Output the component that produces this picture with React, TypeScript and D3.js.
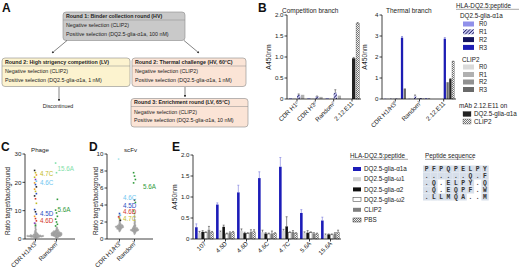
import React from 'react';
import * as d3 from 'd3';

const FONT = "'Liberation Sans', Arial, Helvetica, sans-serif";
const MONO = "'Liberation Mono', 'DejaVu Sans Mono', monospace";

// ---------------- Panel A data ----------------
const flowTitles = [
  'Round 1: Binder collection round (HV)',
  'Round 2: High strigency competition (LV)',
  'Round 2: Thermal challenge (HV, 60°C)',
  'Round 3: Enrichment round (LV, 65°C)',
];
const flowNeg = ['Negative selection (CLIP2)', 'Negative selection (CLIP2)', 'Negative selection (CLIP2)', 'Negative selection (CLIP2)'];
const flowPos = [
  'Positive selection (DQ2.5-glia-α1a, 100 nM)',
  'Positive selection (DQ2.5-glia-α1a, 1 nM)',
  'Positive selection (DQ2.5-glia-α1a, 1 nM)',
  'Positive selection (DQ2.5-glia-α1a, 10 nM)',
];
const flowEnd = 'Discontinued';

// ---------------- Panel B data ----------------
const compCats = ['CDR H1', 'CDR H3', 'Random', '2.12.E11'];
const compSups = ['c', 'c', 'c', ''];
const compDqR0 = [0.02, 0.02, 0.02, null];
const compClipR0 = [0.015, 0.015, 0.015, null];
const compDqR1 = [0.1, 0.06, 0.15, null];
const compDqR1Err = [0.02, 0.01, 0.07, null];
const compClipR1 = [0.1, 0.05, 0.08, null];
const compMabDQ = [null, null, null, 0.97];
const compMabCLIP = [null, null, null, 1.8];
const compTicks = [0, 0.5, 1.0, 1.5, 2.0];

const thermCats = ['CDR H1/H3', 'Random', '2.12.E11'];
const thermSups = ['f', 'f', ''];
const thermDqR0 = [0.02, 0.02, null];
const thermClipR0 = [0.02, 0.02, null];
const thermDqR1 = [0.02, 0.15, null];
const thermDqR1Err = [0, 0.04, null];
const thermClipR1 = [0.02, 0.04, null];
const thermDqR2 = [0.02, 0.04, null];
const thermClipR2 = [0.02, 0.03, null];
const thermDqR3 = [2.92, 0.03, 2.87];
const thermDqR3Err = [0.05, 0, 0.05];
const thermClipR3 = [0.5, 0.03, 0.8];
const thermMabDQ = [null, null, 0.95];
const thermMabCLIP = [null, null, 1.78];
const thermTicks = [0, 1, 2, 3, 4];

const bLegendTitle = 'HLA-DQ2.5:peptide';
const bLegendDq = 'DQ2.5-glia-α1a';
const bLegendClip = 'CLIP2';
const roundNames = ['R0', 'R1', 'R2', 'R3'];
const bLegendMab = 'mAb 2.12.E11 on';

// ---------------- Panel C / D data ----------------
const swarmCats = ['CDR H1/H3', 'Random'];
const swarmSups = ['f', 'f'];

const phageCdrGray = [0.4, 0.5, 0.6, 0.6, 0.7, 0.7, 0.8, 0.8, 0.8, 0.9, 0.9, 0.9, 1.0, 1.0, 1.0, 1.0, 1.1, 1.1, 1.1, 1.1, 1.2, 1.2, 1.2, 1.3, 1.3, 1.4, 1.4, 1.5, 1.5, 1.6, 1.7, 1.8, 1.9, 2.0, 2.1, 2.3, 2.5, 2.7, 3.0, 3.3, 3.6, 4.0, 4.4, 4.9, 5.4, 1.0, 0.9, 1.2, 1.1, 0.8];
const phageRandGray = [0.5, 0.6, 0.7, 0.8, 0.9, 1.0, 1.0, 1.1, 1.1, 1.2, 1.2, 1.3, 1.3, 1.4, 1.4, 1.5, 1.5, 1.5, 1.6, 1.6, 1.7, 1.7, 1.8, 1.8, 1.9, 1.9, 2.0, 2.0, 2.0, 2.1, 2.1, 2.2, 2.2, 2.3, 2.3, 2.4, 2.5, 2.5, 2.6, 2.7, 2.8, 2.9, 3.0, 3.1, 3.3, 3.5, 3.8, 4.1, 1.2, 1.4, 1.6, 1.8, 2.0, 2.2, 1.0, 1.3, 1.7, 1.9, 2.4, 2.6];
const phageCdrHi = [24.2, 23.4, 22.6, 21.8, 21.0, 20.4, 19.8, 19.2, 18.4, 17.6, 16.8, 16.0, 15.2, 14.2, 12.6, 10.4, 9.6, 8.8, 8.0, 7.2, 6.4, 5.6, 4.8];
const phageCdrHiTags = ['k', 'y', 'o', 'y', 'p', 'c', 'o', 'b', 'k', 'o', 'y', 'b', 'k', 'r', 'y', 'b', 'k', 'b', 'o', 'r', 'r', 'p', 'g'];
const phageRandHi = [26.8, 23.4, 14.0, 10.2, 9.2, 8.0, 7.0, 6.0, 5.2, 4.6];
const phageRandHiTags = ['lg', 'lg', 'g', 'g', 'g', 'g', 'g', 'g', 'g', 'g'];
const phageLabels = ['4.7C', '4.6C', '4.5D', '4.6D', '15.6A', '5.6A'];
const phageLabelVals = [23, 19.8, 8.8, 6.4, 24.7, 10.2];
const phageLabelCats = [0, 0, 0, 0, 1, 1];
const phageLabelTags = ['y', 'c', 'b', 'r', 'lg', 'g'];
const phageTicks = [0, 10, 20, 30];

const scfvCdrGray = [0.9, 1.0, 1.05, 1.1, 1.15, 1.2, 1.2, 1.25, 1.3, 1.3, 1.35, 1.35, 1.4, 1.4, 1.4, 1.45, 1.45, 1.5, 1.5, 1.5, 1.55, 1.6, 1.6, 1.65, 1.7, 1.75, 1.8, 1.9, 2.0, 2.1, 2.2, 2.4, 2.6, 2.8, 1.3, 1.4, 1.5, 1.2, 1.6];
const scfvRandGray = [0.6, 0.7, 0.75, 0.8, 0.85, 0.9, 0.9, 0.95, 1.0, 1.0, 1.0, 1.05, 1.05, 1.1, 1.1, 1.1, 1.15, 1.15, 1.2, 1.2, 1.25, 1.3, 1.3, 1.35, 1.4, 1.45, 1.5, 1.55, 1.6, 1.7, 1.8, 1.9, 2.0, 2.1, 2.3, 2.5, 2.7, 0.95, 1.0, 1.05, 1.1, 1.2, 1.3];
const scfvCdrHi = [9.4, 3.0, 2.8, 2.6, 2.4, 2.2];
const scfvCdrHiTags = ['lc', 'b', 'c', 'r', 'y', 'k'];
const scfvRandHi = [7.8, 7.4, 7.0, 6.6, 4.6, 4.3, 3.3, 3.0];
const scfvRandHiTags = ['g', 'g', 'g', 'g', 'k', 'g', 'g', 'g'];
const scfvLabels = ['4.6C', '4.5D', '4.6D', '4.7C', '5.6A'];
const scfvLabelVals = [4.8, 3.9, 3.2, 2.35, 6.1];
const scfvLabelCats = [0, 0, 0, 0, 1];
const scfvLabelTags = ['c', 'b', 'r', 'y', 'g'];
const scfvTicks = [0, 2, 4, 6, 8, 10];

// ---------------- Panel E data ----------------
const eCats = ['107', '4.5D', '4.6D', '4.6C', '4.7C', '5.6A', '15.6A'];
const eNames = ['DQ2.5-glia-α1a', 'DQ2.5-glia-ω1', 'DQ2.5-glia-α2', 'DQ2.5-glia-ω2', 'CLIP2', 'PBS'];
const eA1a = [0.28, 0.82, 1.11, 1.45, 1.72, 0.62, 0.44];
const eA1aErr = [0.08, 0.04, 0.17, 0.15, 0.22, 0.08, 0.08];
const eW1 = [0.15, 0.17, 0.2, 0.16, 0.2, 0.15, 0.1];
const eW1Err = [0.03, 0.02, 0.04, 0.05, 0.03, 0.02, 0.02];
const eA2 = [0.17, 0.29, 0.14, 0.13, 0.3, 0.15, 0.11];
const eA2Err = [0.03, 0.04, 0.02, 0.02, 0.23, 0.05, 0.01];
const eW2 = [0.15, 0.12, 0.13, 0.12, 0.15, 0.15, 0.1];
const eW2Err = [0.02, 0.02, 0.02, 0.02, 0.02, 0.02, 0.02];
const eClip = [0.22, 0.15, 0.17, 0.13, 0.17, 0.13, 0.13];
const eClipErr = [0.08, 0.02, 0.05, 0.06, 0.03, 0.02, 0.02];
const ePbs = [0.15, 0.15, 0.17, 0.13, 0.13, 0.12, 0.15];
const ePbsErr = [0.03, 0.03, 0.05, 0.02, 0.02, 0.02, 0.06];
const eTicks = [0, 0.5, 1.0, 1.5, 2.0];
const peptideTitle = 'Peptide sequence';
const peptideRows = ['PFPQPELPY', '......Q.F', '.Q.ELPY.Q', '.Q.EQPF.W', '.LLMQA..M'];
const peptideShade = ['111111111', '111111111', '110111101', '110111101', '111111001'];

// ---------------- styles ----------------
const tagColor: Record<string, string> = {
  k: '#222', y: '#c2bb22', o: '#ef9d22', p: '#8a3ab9', b: '#2a4fbf', r: '#d4382a',
  c: '#6ec6f0', g: '#2f9a3a', lg: '#7fe0a8', lc: '#a6e3ea',
};
const seriesFill: Record<string, string> = {
  dqR0: '#9090ea', dqR1: 'url(#hatchNavy)', dqR2: '#14145e', dqR3: '#1d1db4',
  clipR0: '#dadada', clipR1: '#b0b0b0', clipR2: '#919191', clipR3: '#6a6a6a',
  mabDQ: '#222', mabCLIP: 'url(#checker)',
  a1a: '#1c1cb8', w1: '#d2d2d2', a2: '#111', w2: '#fff', clip: '#7f7f7f', pbs: 'url(#checker)',
};
const seriesErr: Record<string, string> = { dqR3: '#5555cc', a1a: '#7777dd' };

type Series = { key: string; values: (number | null)[]; errors?: (number | null)[] };

function Sup({ t }: { t: string }) {
  if (!t) return null;
  return <tspan dy={-2} fontSize={4}>{t}</tspan>;
}

function YAxis({ x, scale, ticks, fmt }: { x: number; scale: d3.ScaleLinear<number, number>; ticks: number[]; fmt: (v: number) => string }) {
  const [r0, r1] = scale.range();
  return (
    <g>
      <line x1={x} x2={x} y1={r0} y2={r1} stroke="#111" strokeWidth={0.8} />
      {ticks.map((t) => (
        <g key={t}>
          <line x1={x - 2.5} x2={x} y1={scale(t)} y2={scale(t)} stroke="#111" strokeWidth={0.8} />
          <text x={x - 3.5} y={scale(t)} dy="0.35em" textAnchor="end" fontSize={6.2} fill="#222">{fmt(t)}</text>
        </g>
      ))}
    </g>
  );
}

function XLabels({ xs, y, labels, sups }: { xs: number[]; y: number; labels: string[]; sups: string[] }) {
  return (
    <g>
      {xs.map((cx, i) => (
        <g key={i}>
          <line x1={cx} x2={cx} y1={y} y2={y + 2.5} stroke="#111" strokeWidth={0.8} />
          <text transform={`translate(${cx + 2},${y + 5}) rotate(-45)`} textAnchor="end" fontSize={6.2} fill="#222">
            {labels[i]}<Sup t={sups[i]} />
          </text>
        </g>
      ))}
    </g>
  );
}

function GroupedBars(props: {
  cats: string[]; sups: string[]; series: Series[]; left: number; right: number; top: number; bottom: number;
  yMax: number; ticks: number[]; fmt: (v: number) => string; maxSlots: number; pad: number;
}) {
  const { cats, sups, series, left, right, top, bottom, yMax, ticks, fmt, maxSlots, pad } = props;
  const x = d3.scaleBand().domain(cats).range([left + 1, right]).paddingInner(pad).paddingOuter(0.05);
  const y = d3.scaleLinear().domain([0, yMax]).range([bottom, top]);
  const bw = x.bandwidth();
  const slot = bw / maxSlots;
  const bars: React.ReactNode[] = [];
  cats.forEach((c, ci) => {
    const present = series.filter((s) => s.values[ci] != null);
    const start = (x(c) as number) + bw - present.length * slot;
    present.forEach((s, k) => {
      const v = s.values[ci] as number;
      const bx = start + k * slot;
      const w = slot * 0.82;
      const e = s.errors ? s.errors[ci] : null;
      const isWhite = s.key === 'w2';
      bars.push(
        <g key={c + s.key}>
          <rect x={bx} y={y(v)} width={w} height={bottom - y(v)} fill={seriesFill[s.key]}
            stroke={isWhite || s.key === 'pbs' || s.key === 'mabCLIP' ? '#444' : 'none'} strokeWidth={isWhite ? 0.5 : 0.3} />
          {e ? (
            <g stroke={seriesErr[s.key] || '#444'} strokeWidth={0.6}>
              <line x1={bx + w / 2} x2={bx + w / 2} y1={y(v)} y2={y(v + e)} />
              <line x1={bx + w / 2 - 1} x2={bx + w / 2 + 1} y1={y(v + e)} y2={y(v + e)} />
            </g>
          ) : null}
        </g>
      );
    });
  });
  const centers = cats.map((c) => (x(c) as number) + bw / 2);
  return (
    <g>
      {bars}
      <YAxis x={left} scale={y} ticks={ticks} fmt={fmt} />
      <line x1={left} x2={right} y1={bottom} y2={bottom} stroke="#111" strokeWidth={0.8} />
      <XLabels xs={centers} y={bottom} labels={cats} sups={sups} />
    </g>
  );
}

function swarm(vals: number[], y: d3.ScaleLinear<number, number>, cx: number, r: number, overlap: number) {
  const placed: { x: number; y: number }[] = [];
  const sorted = [...vals].sort((a, b) => a - b);
  const step = r * 0.6;
  const minD = 2 * r * overlap;
  for (const v of sorted) {
    const py = y(v);
    let k = 0;
    let done = false;
    while (!done) {
      const cands = k === 0 ? [0] : [k * step, -k * step];
      for (const dx of cands) {
        const px = cx + dx;
        const ok = placed.every((p) => (p.x - px) ** 2 + (p.y - py) ** 2 >= minD ** 2);
        if (ok) { placed.push({ x: px, y: py }); done = true; break; }
      }
      k++;
    }
  }
  return placed;
}

function Swarm(props: {
  gray: number[][]; hi: number[][]; hiTags: string[][]; centers: number[]; left: number; right: number;
  top: number; bottom: number; yMax: number; ticks: number[];
  labels: string[]; labelVals: number[]; labelCats: number[]; labelTags: string[]; labelDx: number[];
}) {
  const { gray, hi, hiTags, centers, left, right, top, bottom, yMax, ticks, labels, labelVals, labelCats, labelTags, labelDx } = props;
  const y = d3.scaleLinear().domain([0, yMax]).range([bottom, top]);
  const r = 0.75;
  return (
    <g>
      {gray.map((vals, ci) =>
        swarm(vals, y, centers[ci], r, 0.62).map((p, i) => (
          <circle key={`g${ci}-${i}`} cx={p.x} cy={p.y} r={r} fill="#b0b0b0" stroke="#8a8a8a" strokeWidth={0.25} />
        ))
      )}
      {hi.map((vals, ci) =>
        vals.map((v, i) => (
          <rect key={`h${ci}-${i}`} x={centers[ci] - 0.8 + ((i % 3) - 1) * 0.9} y={y(v) - 0.8} width={1.6} height={1.6} fill={tagColor[hiTags[ci][i]]} />
        ))
      )}
      {labels.map((t, i) => (
        <text key={t + i} x={centers[labelCats[i]] + labelDx[labelCats[i]]} y={y(labelVals[i])} dy="0.35em"
          fontSize={6.3} fill={tagColor[labelTags[i]]}>{t}</text>
      ))}
      <YAxis x={left} scale={y} ticks={ticks} fmt={(v) => String(v)} />
      <line x1={left} x2={right} y1={bottom} y2={bottom} stroke="#111" strokeWidth={0.8} />
      <XLabels xs={centers} y={bottom} labels={swarmCats} sups={swarmSups} />
    </g>
  );
}

function FlowBox({ x, y, w, fill, i }: { x: number; y: number; w: number; fill: string; i: number }) {
  const h = 28.5;
  return (
    <g>
      <rect x={x} y={y} width={w} height={h} rx={3} fill={fill} stroke="#8a8a8a" strokeWidth={0.6} />
      <line x1={x} x2={x + w} y1={y + 8} y2={y + 8} stroke="#8a8a8a" strokeWidth={0.5} />
      <text x={x + 3} y={y + 5.8} fontSize={5.3} fontWeight="bold" fill="#222">{flowTitles[i]}</text>
      <text x={x + 3} y={y + 15} fontSize={5.3} fill="#222">{flowNeg[i]}</text>
      <text x={x + 3} y={y + 23.5} fontSize={5.3} fill="#222">{flowPos[i]}</text>
    </g>
  );
}

function Label({ x, y, t }: { x: number; y: number; t: string }) {
  return <text x={x} y={y} fontSize={12} fontWeight="bold" fill="#111">{t}</text>;
}

function VLabel({ x, y, t, size = 6.8 }: { x: number; y: number; t: string; size?: number }) {
  return <text transform={`translate(${x},${y}) rotate(-90)`} textAnchor="middle" fontSize={size} fill="#222">{t}</text>;
}

export default function App() {
  const fmt1 = (v: number) => (v === 0 ? '0' : d3.format('.1f')(v));
  const compSeries: Series[] = [
    { key: 'dqR0', values: compDqR0 },
    { key: 'clipR0', values: compClipR0 },
    { key: 'dqR1', values: compDqR1, errors: compDqR1Err },
    { key: 'clipR1', values: compClipR1 },
    { key: 'mabDQ', values: compMabDQ, errors: [null, null, null, 0.02] },
    { key: 'mabCLIP', values: compMabCLIP, errors: [null, null, null, 0.02] },
  ];
  const thermSeries: Series[] = [
    { key: 'dqR0', values: thermDqR0 },
    { key: 'clipR0', values: thermClipR0 },
    { key: 'dqR1', values: thermDqR1, errors: thermDqR1Err },
    { key: 'clipR1', values: thermClipR1 },
    { key: 'dqR2', values: thermDqR2 },
    { key: 'clipR2', values: thermClipR2 },
    { key: 'dqR3', values: thermDqR3, errors: thermDqR3Err },
    { key: 'clipR3', values: thermClipR3 },
    { key: 'mabDQ', values: thermMabDQ, errors: [null, null, 0.02] },
    { key: 'mabCLIP', values: thermMabCLIP, errors: [null, null, 0.02] },
  ];
  const eSeries: Series[] = [
    { key: 'a1a', values: eA1a, errors: eA1aErr },
    { key: 'w1', values: eW1, errors: eW1Err },
    { key: 'a2', values: eA2, errors: eA2Err },
    { key: 'w2', values: eW2, errors: eW2Err },
    { key: 'clip', values: eClip, errors: eClipErr },
    { key: 'pbs', values: ePbs, errors: ePbsErr },
  ];
  const eKeys = ['a1a', 'w1', 'a2', 'w2', 'clip', 'pbs'];
  const dqKeys = ['dqR0', 'dqR1', 'dqR2', 'dqR3'];
  const clipKeys = ['clipR0', 'clipR1', 'clipR2', 'clipR3'];

  const cX = d3.scalePoint<number>().domain([0, 1]).range([25, 67]).padding(0.5);
  const dX = d3.scalePoint<number>().domain([0, 1]).range([112, 142]).padding(0.5);

  return (
    <svg width={520} height={275} style={{ position: 'absolute', left: 0, top: 0, background: '#fff', fontFamily: FONT }}>
      <defs>
        <pattern id="hatchNavy" width={2.4} height={2.4} patternUnits="userSpaceOnUse" patternTransform="rotate(45)">
          <rect width={2.4} height={2.4} fill="#c8c8f0" />
          <line x1={0} y1={0} x2={0} y2={2.4} stroke="#14145e" strokeWidth={1.5} />
        </pattern>
        <pattern id="checker" width={2} height={2} patternUnits="userSpaceOnUse">
          <rect width={2} height={2} fill="#f4f4f4" />
          <rect width={1} height={1} fill="#777" />
          <rect x={1} y={1} width={1} height={1} fill="#777" />
        </pattern>
        <marker id="arr" viewBox="0 0 6 6" refX={5} refY={3} markerWidth={4} markerHeight={4} orient="auto">
          <path d="M0,0 L6,3 L0,6 z" fill="#333" />
        </marker>
      </defs>

      {/* Panel A */}
      <Label x={2} y={12} t="A" />
      <FlowBox x={63} y={12} w={122} fill="#c9c9c9" i={0} />
      <FlowBox x={2} y={58} w={128} fill="#fcf3cf" i={1} />
      <FlowBox x={132} y={58} w={114} fill="#fbe4d6" i={2} />
      <FlowBox x={131} y={98.5} w={117} fill="#fbe4d6" i={3} />
      <g stroke="#333" strokeWidth={0.6}>
        <line x1={67} y1={40.5} x2={52} y2={53} markerEnd="url(#arr)" />
        <line x1={184} y1={40.5} x2={199} y2={53} markerEnd="url(#arr)" />
        <line x1={59} y1={87} x2={59} y2={101} markerEnd="url(#arr)" />
        <line x1={185} y1={87} x2={185} y2={97} markerEnd="url(#arr)" />
      </g>
      <text x={58} y={108} textAnchor="middle" fontSize={5.3} fill="#222">{flowEnd}</text>

      {/* Panel B */}
      <Label x={258} y={12} t="B" />
      <text x={282} y={13} fontSize={6.5} fill="#222">Competition branch</text>
      <VLabel x={271} y={57} t="A450nm" />
      <GroupedBars cats={compCats} sups={compSups} series={compSeries} left={287} right={361} top={15} bottom={99}
        yMax={2} ticks={compTicks} fmt={fmt1} maxSlots={4} pad={0.12} />
      <text x={386} y={13} fontSize={6.5} fill="#222">Thermal branch</text>
      <VLabel x={367} y={57} t="A450nm" />
      <GroupedBars cats={thermCats} sups={thermSups} series={thermSeries} left={382} right={456} top={15} bottom={99}
        yMax={4} ticks={thermTicks} fmt={(v) => String(v)} maxSlots={8} pad={0.08} />

      {/* Panel B legend */}
      <g fontSize={6.3} fill="#222">
        <text x={456} y={8}>{bLegendTitle}</text>
        <line x1={456} x2={519} y1={9.3} y2={9.3} stroke="#222" strokeWidth={0.4} />
        <text x={460} y={17.5}>{bLegendDq}</text>
        {dqKeys.map((k, i) => (
          <g key={k}>
            <rect x={463} y={21.5 + i * 7.8} width={11} height={5} fill={seriesFill[k]} />
            <text x={479} y={24 + i * 7.8} dy="0.35em">{roundNames[i]}</text>
          </g>
        ))}
        <text x={462} y={62}>{bLegendClip}</text>
        {clipKeys.map((k, i) => (
          <g key={k}>
            <rect x={463} y={64.5 + i * 7.5} width={11} height={5} fill={seriesFill[k]} />
            <text x={479} y={67 + i * 7.5} dy="0.35em">{roundNames[i]}</text>
          </g>
        ))}
        <text x={459} y={108}>{bLegendMab}</text>
        <rect x={463} y={111.5} width={8} height={5} fill={seriesFill.mabDQ} stroke="#333" strokeWidth={0.3} />
        <text x={474} y={114} dy="0.35em">{bLegendDq}</text>
        <rect x={463} y={119} width={8} height={5} fill={seriesFill.mabCLIP} stroke="#333" strokeWidth={0.3} />
        <text x={474} y={121.5} dy="0.35em">{bLegendClip}</text>
      </g>

      {/* Panel C */}
      <Label x={1} y={151} t="C" />
      <text x={31} y={152} fontSize={6.2} fill="#222">Phage</text>
      <VLabel x={10} y={201} t="Ratio target/background" size={6.4} />
      <Swarm gray={[phageCdrGray, phageRandGray]} hi={[phageCdrHi, phageRandHi]} hiTags={[phageCdrHiTags, phageRandHiTags]}
        centers={[cX(0) as number, cX(1) as number]} left={25} right={75} top={154} bottom={239} yMax={30} ticks={phageTicks}
        labels={phageLabels} labelVals={phageLabelVals} labelCats={phageLabelCats} labelTags={phageLabelTags} labelDx={[4.5, 1]} />

      {/* Panel D */}
      <Label x={89} y={151} t="D" />
      <text x={124} y={152} fontSize={6.2} fill="#222">scFv</text>
      <VLabel x={98} y={201} t="Ratio target/background" size={6.4} />
      <Swarm gray={[scfvCdrGray, scfvRandGray]} hi={[scfvCdrHi, scfvRandHi]} hiTags={[scfvCdrHiTags, scfvRandHiTags]}
        centers={[dX(0) as number, dX(1) as number]} left={107} right={153} top={154} bottom={239} yMax={10} ticks={scfvTicks}
        labels={scfvLabels} labelVals={scfvLabelVals} labelCats={scfvLabelCats} labelTags={scfvLabelTags} labelDx={[3.5, 8.5]} />

      {/* Panel E */}
      <Label x={172} y={151} t="E" />
      <VLabel x={177} y={197} t="A450nm" />
      <GroupedBars cats={eCats} sups={eCats.map(() => '')} series={eSeries} left={193} right={341} top={155} bottom={239}
        yMax={2} ticks={eTicks} fmt={fmt1} maxSlots={6} pad={0.1} />

      {/* Panel E legend */}
      <g fontSize={6.3} fill="#222">
        <text x={350} y={158}>{bLegendTitle}</text>
        <line x1={350} x2={408} y1={159.3} y2={159.3} stroke="#222" strokeWidth={0.4} />
        {eKeys.map((k, i) => (
          <g key={k}>
            <rect x={353} y={167 + i * 10.2} width={8} height={4} fill={seriesFill[k]}
              stroke={k === 'w2' || k === 'pbs' ? '#333' : 'none'} strokeWidth={0.5} />
            <text x={364} y={169 + i * 10.2} dy="0.35em">{eNames[i]}</text>
          </g>
        ))}
        <text x={425} y={158}>{peptideTitle}</text>
        <line x1={425} x2={474} y1={159.3} y2={159.3} stroke="#222" strokeWidth={0.4} />
      </g>
      <g>
        {peptideRows.map((row, ri) =>
          row.split('').map((ch, ci) => (
            <g key={`${ri}-${ci}`}>
              {peptideShade[ri][ci] === '1' ? (
                <rect x={423 + ci * 7.3} y={165.5 + ri * 7} width={7.3} height={7} fill="#d7dfea" />
              ) : null}
              <text x={426.6 + ci * 7.3} y={169 + ri * 7} dy="0.35em" textAnchor="middle" fontSize={6.3}
                fontFamily={MONO} fontWeight="bold" fill="#333">{ch}</text>
            </g>
          ))
        )}
      </g>
    </svg>
  );
}
